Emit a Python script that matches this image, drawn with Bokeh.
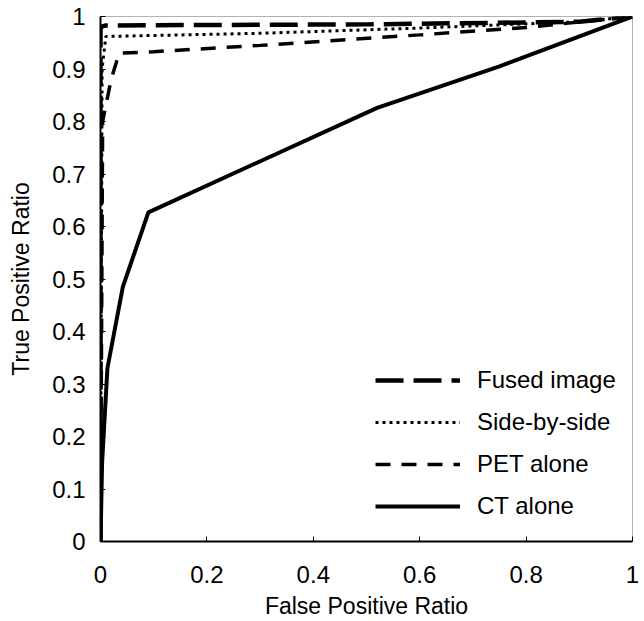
from bokeh.plotting import figure
from bokeh.models import Range1d, FixedTicker, Legend, LegendItem
from bokeh.embed import file_html
from bokeh.resources import INLINE

# ROC data
fused_fpr = [0.0, 0.0, 0.01, 0.5, 0.9, 1.0]
fused_tpr = [0.0, 0.98, 0.983, 0.985, 0.99, 1.0]

side_fpr = [0.0, 0.003, 0.01, 0.3, 0.6, 0.9, 1.0]
side_tpr = [0.0, 0.9, 0.962, 0.968, 0.978, 0.99, 1.0]

pet_fpr = [0.0, 0.004, 0.02, 0.035, 0.1, 0.3, 0.6, 0.8, 1.0]
pet_tpr = [0.0, 0.8, 0.88, 0.93, 0.933, 0.945, 0.965, 0.979, 1.0]

ct_fpr = [0.0, 0.003, 0.013, 0.042, 0.09, 0.52, 0.75, 1.0]
ct_tpr = [0.0, 0.15, 0.33, 0.485, 0.627, 0.826, 0.905, 1.0]

series_names = ["Fused image", "Side-by-side", "PET alone", "CT alone"]

x_ticks = [0, 0.2, 0.4, 0.6, 0.8, 1]
x_tick_labels = ["0", "0.2", "0.4", "0.6", "0.8", "1"]
y_ticks = [0, 0.1, 0.2, 0.3, 0.4, 0.5, 0.6, 0.7, 0.8, 0.9, 1]
y_tick_labels = ["0", "0.1", "0.2", "0.3", "0.4", "0.5", "0.6", "0.7", "0.8", "0.9", "1"]

FONT = "Liberation Sans"

p = figure(width=640, height=621, output_backend="svg", toolbar_location=None,
           x_range=Range1d(0, 1), y_range=Range1d(0, 1),
           min_border_left=100, min_border_right=8, min_border_top=16, min_border_bottom=78)

p.xgrid.visible = False
p.ygrid.visible = False
p.outline_line_color = "black"
p.outline_line_alpha = 0.3
p.background_fill_color = "white"
p.border_fill_color = "white"

r_fused = p.line(fused_fpr, fused_tpr, line_color="black", line_width=4.5, line_dash="28 10")
r_side = p.line(side_fpr, side_tpr, line_color="black", line_width=3, line_dash="3 4")
r_pet = p.line(pet_fpr, pet_tpr, line_color="black", line_width=3.5, line_dash="15 11")
r_ct = p.line(ct_fpr, ct_tpr, line_color="black", line_width=4)

for ax, ticks, labels in ((p.xaxis[0], x_ticks, x_tick_labels), (p.yaxis[0], y_ticks, y_tick_labels)):
    ax.ticker = FixedTicker(ticks=ticks)
    ax.major_label_overrides = {t: l for t, l in zip(ticks, labels)}
    ax.minor_tick_line_color = None
    ax.major_tick_in = 5
    ax.major_tick_out = 0
    ax.axis_line_width = 2
    ax.axis_line_color = "black"
    ax.major_tick_line_color = "black"
    ax.major_label_text_font = FONT
    ax.major_label_text_font_size = "24px"
    ax.major_label_text_color = "black"
    ax.axis_label_text_font = FONT
    ax.axis_label_text_font_size = "23px"
    ax.axis_label_text_font_style = "normal"
    ax.axis_label_text_color = "black"

p.xaxis.axis_label = "False Positive Ratio"
p.yaxis.axis_label = "True Positive Ratio"
p.xaxis.major_label_standoff = 24
p.xaxis.axis_label_standoff = 7
p.yaxis.major_label_standoff = 15
p.yaxis.axis_label_standoff = 15

legend = Legend(items=[LegendItem(label=n, renderers=[r]) for n, r in
                       zip(series_names, [r_fused, r_side, r_pet, r_ct])],
                location=(275, 20), orientation="vertical",
                border_line_alpha=0, background_fill_alpha=0,
                padding=0, margin=0, spacing=12,
                glyph_width=85, glyph_height=30, label_height=30,
                label_standoff=17,
                label_text_font=FONT, label_text_font_size="24px", label_text_color="black")
p.add_layout(legend, "center")

open("out.html", "w").write(file_html(p, INLINE))
